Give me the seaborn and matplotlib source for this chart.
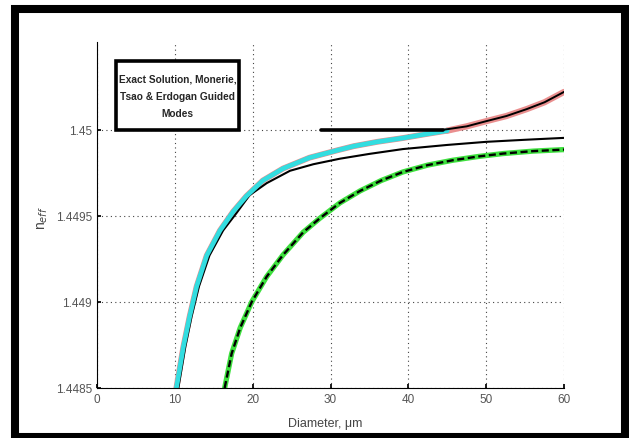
import seaborn as sns
import matplotlib.pyplot as plt
from matplotlib.patches import Rectangle

# curves (diameter in um, n_eff)
exact_x = [10.2, 11.1, 11.9, 12.8, 14.1, 15.8, 17.5, 19.2, 21.3, 23.9, 27.3, 30.8, 33, 36, 39.3, 42, 45]
exact_y = [1.4485, 1.44874, 1.448915, 1.44909, 1.44927, 1.449415, 1.449525, 1.449615, 1.449705,
           1.449775, 1.449838, 1.44988, 1.449905, 1.44993, 1.449952, 1.449973, 1.449995]

upper_x = [45, 47.5, 50, 52.6, 55.2, 57.5, 60]
upper_y = [1.449995, 1.45002, 1.45005, 1.45008, 1.45012, 1.45016, 1.45022]

flat_x = [28.8, 35, 40, 44.5, 47.5, 50, 52.6, 55.2, 57.5, 60]
flat_y = [1.45, 1.45, 1.45, 1.45, 1.45002, 1.45005, 1.45008, 1.45012, 1.45016, 1.45022]

monerie_x = [10.45, 11.35, 12.15, 13.1, 14.45, 16.2, 17.9, 19.6, 21.8, 24.8, 27.8, 31.2, 35, 39.3, 45, 50, 55, 60]
monerie_y = [1.4485, 1.44874, 1.448915, 1.44909, 1.44927, 1.449415, 1.449515, 1.44962, 1.44969,
             1.449762, 1.4498, 1.449832, 1.44986, 1.449888, 1.449912, 1.44993, 1.449942, 1.449953]

second_x = [16.4, 17.3, 18.4, 19.9, 21.8, 23.9, 26.5, 28.6, 31.2, 33.8, 36.5, 39.3, 42.5, 45.7, 49, 52.2, 56, 60]
second_y = [1.4485, 1.4487, 1.44885, 1.449002, 1.449147, 1.449273, 1.449405, 1.449485, 1.449575,
            1.449645, 1.449705, 1.449755, 1.449795, 1.449823, 1.449845, 1.449862, 1.449876, 1.449885]

x_ticks = [0, 10, 20, 30, 40, 50, 60]
y_ticks = [1.4485, 1.449, 1.4495, 1.45]
y_ticklabels = ["1.4485", "1.449", "1.4495", "1.45"]

sns.set_theme(style="white")
plt.rcParams['font.family'] = ['Liberation Sans Narrow', 'Liberation Sans', 'DejaVu Sans']

fig = plt.figure(figsize=(6.29, 4.39), dpi=100)
ax = fig.add_axes([97 / 629, 1 - 389 / 439, (564 - 97) / 629, (389 - 43) / 439])

# exact solution (pink under cyan)
sns.lineplot(x=exact_x, y=exact_y, ax=ax, color="#e89090", linewidth=4.2, sort=False)
sns.lineplot(x=upper_x, y=upper_y, ax=ax, color="#ea8f8f", linewidth=4.5, sort=False)
# Monerie thin curve (just right of the exact one)
sns.lineplot(x=monerie_x, y=monerie_y, ax=ax, color="black", linewidth=1.5, sort=False)
sns.lineplot(x=exact_x, y=exact_y, ax=ax, color="#33dde0", linewidth=3.4, sort=False)
# black curve along 1.45 joining the upper branch
sns.lineplot(x=flat_x[:4], y=flat_y[:4], ax=ax, color="black", linewidth=2.6, sort=False)
sns.lineplot(x=flat_x[3:], y=flat_y[3:], ax=ax, color="black", linewidth=1.4, sort=False)
# second mode: green with black dashes
sns.lineplot(x=second_x, y=second_y, ax=ax, color="#3ee03e", linewidth=3.8, sort=False)
sns.lineplot(x=second_x, y=second_y, ax=ax, color="black", linewidth=1.7, sort=False,
             linestyle=(0, (3, 1.5)))

ax.set_xlim(0, 60)
ax.set_ylim(1.4485, 1.45051)
ax.set_xticks(x_ticks)
ax.set_xticklabels([str(t) for t in x_ticks])
ax.set_yticks(y_ticks)
ax.set_yticklabels(y_ticklabels)
ax.tick_params(axis="both", labelsize=8.5, labelcolor="#555555", length=3, direction="in",
               bottom=True, left=True, color="black")
ax.grid(True, linestyle=(0, (1, 3)), color="#444444", linewidth=0.8)
for s in ["top", "right"]:
    ax.spines[s].set_visible(False)
for s in ["left", "bottom"]:
    ax.spines[s].set_color("black")
    ax.spines[s].set_linewidth(0.8)

ax.set_xlabel("Diameter, μm", fontsize=9, color="#444444")
ax.set_ylabel("n$_{eff}$", fontsize=10, color="#444444")
ax.xaxis.set_label_coords(0.488, -0.085)
ax.yaxis.set_label_coords(-0.1, 0.494)

# annotation box
ax.add_patch(Rectangle((0.041, 0.746), 0.263, 0.199, transform=ax.transAxes,
                       facecolor="white", edgecolor="black", linewidth=2.6, zorder=5))
ax.text(0.1725, 0.845, "Exact Solution, Monerie,\nTsao & Erdogan Guided\nModes",
        transform=ax.transAxes, ha="center", va="center", fontsize=7.3, fontweight="bold",
        linespacing=1.9, zorder=6)

# thick black frame around the whole figure
fig.patches.append(Rectangle((15 / 629, 1 - 438 / 439), 610 / 629, 428 / 439,
                             transform=fig.transFigure, fill=False, edgecolor="black",
                             linewidth=5.8, clip_on=False))

fig.savefig("out.png", dpi=100)
